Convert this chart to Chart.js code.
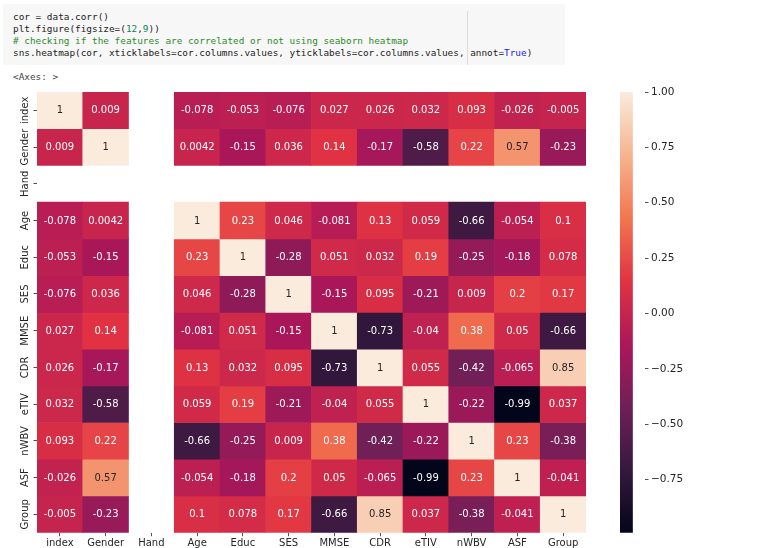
<!DOCTYPE html>
<html>
<head>
<meta charset="utf-8">
<script src="https://cdn.jsdelivr.net/npm/chart.js@4.4.1/dist/chart.umd.min.js"></script>
<style>
  html, body { margin: 0; padding: 0; background: #fff; width: 776px; height: 548px; overflow: hidden; }
  #cell { position: absolute; left: 3px; top: 4px; width: 562px; height: 61px; background: #f7f7f7; }
  #ruler { position: absolute; left: 467px; top: 11px; width: 1px; height: 54px; background: #dcdcdc; }
  pre { margin: 0; position: absolute; left: 13px; font-family: "DejaVu Sans Mono", monospace; font-size: 9.4px; line-height: 12.3px; color: #222; }
  #code { top: 10.5px; }
  #out { top: 70.5px; color: #444; }
  .cm { color: #2e8b2e; }
  .nb { color: #098658; }
  .kw { color: #1a1aff; }
  #heat { position: absolute; left: 0; top: 80px; }
  #cbar { position: absolute; left: 600px; top: 80px; }
</style>
</head>
<body>
<div id="cell"></div>
<div id="ruler"></div>
<pre id="code">cor = data.corr()
plt.figure(figsize=(<span class="nb">12</span>,<span class="nb">9</span>))
<span class="cm"># checking if the features are correlated or not using seaborn heatmap</span>
sns.heatmap(cor, xticklabels=cor.columns.values, yticklabels=cor.columns.values, annot=<span class="kw">True</span>)</pre>
<pre id="out">&lt;Axes: &gt;</pre>
<canvas id="heat" width="600" height="468"></canvas>
<canvas id="cbar" width="176" height="468"></canvas>
<script>
// variables of the correlation matrix (rows and columns are the same)
const columns = ['index', 'Gender', 'Hand', 'Age', 'Educ', 'SES', 'MMSE', 'CDR', 'eTIV', 'nWBV', 'ASF', 'Group'];

// one array per row, null = NaN (Hand has no variance)
const rowIndex  = [1, 0.009, null, -0.078, -0.053, -0.076, 0.027, 0.026, 0.032, 0.093, -0.026, -0.005];
const rowGender = [0.009, 1, null, 0.0042, -0.15, 0.036, 0.14, -0.17, -0.58, 0.22, 0.57, -0.23];
const rowHand   = [null, null, null, null, null, null, null, null, null, null, null, null];
const rowAge    = [-0.078, 0.0042, null, 1, 0.23, 0.046, -0.081, 0.13, 0.059, -0.66, -0.054, 0.1];
const rowEduc   = [-0.053, -0.15, null, 0.23, 1, -0.28, 0.051, 0.032, 0.19, -0.25, -0.18, 0.078];
const rowSES    = [-0.076, 0.036, null, 0.046, -0.28, 1, -0.15, 0.095, -0.21, 0.009, 0.2, 0.17];
const rowMMSE   = [0.027, 0.14, null, -0.081, 0.051, -0.15, 1, -0.73, -0.04, 0.38, 0.05, -0.66];
const rowCDR    = [0.026, -0.17, null, 0.13, 0.032, 0.095, -0.73, 1, 0.055, -0.42, -0.065, 0.85];
const rowETIV   = [0.032, -0.58, null, 0.059, 0.19, -0.21, -0.04, 0.055, 1, -0.22, -0.99, 0.037];
const rowNWBV   = [0.093, 0.22, null, -0.66, -0.25, 0.009, 0.38, -0.42, -0.22, 1, 0.23, -0.38];
const rowASF    = [-0.026, 0.57, null, -0.054, -0.18, 0.2, 0.05, -0.065, -0.99, 0.23, 1, -0.041];
const rowGroup  = [-0.005, -0.23, null, 0.1, 0.078, 0.17, -0.66, 0.85, 0.037, -0.38, -0.041, 1];

// colorbar tick labels
const cbarTicks = [1.0, 0.75, 0.5, 0.25, 0.0, -0.25, -0.5, -0.75];

const matrix = [rowIndex, rowGender, rowHand, rowAge, rowEduc, rowSES, rowMMSE, rowCDR, rowETIV, rowNWBV, rowASF, rowGroup];
const allVals = matrix.flat().filter(v => v !== null);
const vmin = Math.min(...allVals);
const vmax = Math.max(...allVals);

// seaborn "rocket" colormap, sampled
const rocket = [
    [0.0, [3, 5, 26]],
    [1 / 7, [53, 25, 62]],
    [2 / 7, [112, 31, 87]],
    [3 / 7, [173, 23, 89]],
    [4 / 7, [225, 51, 66]],
    [5 / 7, [243, 118, 81]],
    [6 / 7, [246, 180, 143]],
    [1.0, [250, 235, 221]]
];

function rocketRgb(t) {
    t = Math.max(0, Math.min(1, t));
    for (let i = 1; i < rocket.length; i++) {
        if (t <= rocket[i][0]) {
            const [t0, c0] = rocket[i - 1];
            const [t1, c1] = rocket[i];
            const f = (t - t0) / (t1 - t0);
            return c0.map((c, k) => Math.round(c + (c1[k] - c) * f));
        }
    }
    return rocket[rocket.length - 1][1];
}

function cellColor(v) {
    const [r, g, b] = rocketRgb((v - vmin) / (vmax - vmin));
    return `rgb(${r},${g},${b})`;
}

// same rule seaborn uses to pick the annotation colour
function textColor(v) {
    const lin = rocketRgb((v - vmin) / (vmax - vmin)).map(c => {
        c = c / 255;
        return c <= 0.03928 ? c / 12.92 : Math.pow((c + 0.055) / 1.055, 2.4);
    });
    const lum = 0.2126 * lin[0] + 0.7152 * lin[1] + 0.0722 * lin[2];
    return lum > 0.408 ? '#262626' : '#ffffff';
}

// like python's format(v, '.2g')
function fmt2g(v) {
    let s = v.toPrecision(2);
    if (s.indexOf('.') >= 0) s = s.replace(/0+$/, '').replace(/\.$/, '');
    return s;
}

const axisFont = { family: 'DejaVu Sans', size: 10 };
const axisColor = '#262626';

const annotPlugin = {
    id: 'annot',
    afterDatasetsDraw(chart) {
        const ctx = chart.ctx;
        ctx.save();
        ctx.font = '10px "DejaVu Sans"';
        ctx.textAlign = 'center';
        ctx.textBaseline = 'middle';
        chart.data.datasets.forEach((ds, r) => {
            const meta = chart.getDatasetMeta(r);
            meta.data.forEach((bar, c) => {
                const v = matrix[r][c];
                if (v === null) return;
                const p = bar.getCenterPoint();
                ctx.fillStyle = textColor(v);
                ctx.fillText(fmt2g(v), p.x, p.y + 0.5);
            });
        });
        ctx.restore();
    }
};

const heatDatasets = matrix.map((row, r) => ({
    label: columns[r],
    data: row.map(v => (v === null ? null : [r, r + 1])),
    backgroundColor: row.map(v => (v === null ? 'rgba(0,0,0,0)' : cellColor(v))),
    borderWidth: 0,
    barPercentage: 1.0,
    categoryPercentage: 1.0
}));

new Chart(document.getElementById('heat'), {
    type: 'bar',
    data: { labels: columns, datasets: heatDatasets },
    options: {
        responsive: false,
        animation: false,
        layout: { padding: { top: 12, right: 14, left: 0, bottom: 0 } },
        plugins: { legend: { display: false }, tooltip: { enabled: false } },
        scales: {
            x: {
                type: 'category',
                stacked: true,
                offset: true,
                border: { display: false },
                grid: { offset: false, drawOnChartArea: false, drawTicks: true, tickLength: 3.5, color: axisColor, lineWidth: 0.8 },
                ticks: { font: axisFont, color: axisColor, padding: 1.5, autoSkip: false, maxRotation: 0, minRotation: 0 },
                afterFit: (s) => { s.height = 15.3; }
            },
            y: {
                type: 'linear',
                min: 0,
                max: 12,
                reverse: true,
                stacked: false,
                border: { display: false },
                grid: { drawOnChartArea: false, drawTicks: true, tickLength: 3.5, color: axisColor, lineWidth: 0.8 },
                afterBuildTicks: (s) => { s.ticks = columns.map((_, i) => ({ value: i + 0.5 })); },
                ticks: {
                    font: axisFont,
                    color: axisColor,
                    autoSkip: false,
                    minRotation: 90,
                    maxRotation: 90,
                    crossAlign: 'center',
                    padding: -10.4,
                    callback: (v, i) => columns[i]
                },
                afterFit: (s) => { s.width = 37; }
            }
        }
    },
    plugins: [annotPlugin]
});

// colorbar: one floating bar painted with the colormap along the value axis
new Chart(document.getElementById('cbar'), {
    type: 'bar',
    data: {
        labels: ['cbar'],
        datasets: [{
            data: [[vmin, vmax]],
            borderWidth: 0,
            barPercentage: 1.0,
            categoryPercentage: 1.0,
            backgroundColor: (c) => {
                const chart = c.chart;
                if (!chart.chartArea) return '#c62350';
                const y = chart.scales.y;
                const g = chart.ctx.createLinearGradient(0, y.getPixelForValue(vmin), 0, y.getPixelForValue(vmax));
                rocket.forEach(([t, col]) => g.addColorStop(t, `rgb(${col[0]},${col[1]},${col[2]})`));
                return g;
            }
        }]
    },
    options: {
        responsive: false,
        animation: false,
        layout: { padding: { top: 12, right: 0, left: 20, bottom: 15.3 } },
        plugins: { legend: { display: false }, tooltip: { enabled: false } },
        scales: {
            x: { display: false, offset: false },
            y: {
                type: 'linear',
                position: 'right',
                min: vmin,
                max: vmax,
                border: { display: false },
                grid: { drawOnChartArea: false, drawTicks: true, tickLength: 3.5, color: axisColor, lineWidth: 0.8 },
                afterBuildTicks: (s) => { s.ticks = cbarTicks.map(v => ({ value: v })); },
                ticks: {
                    font: { family: 'DejaVu Sans', size: 10.5 },
                    color: axisColor,
                    padding: 2.5,
                    autoSkip: false,
                    callback: (v) => (v < 0 ? '\u2212' + Math.abs(v).toFixed(2) : v.toFixed(2))
                },
                afterFit: (s) => { s.width = 131; }
            }
        }
    }
});
</script>
</body>
</html>
